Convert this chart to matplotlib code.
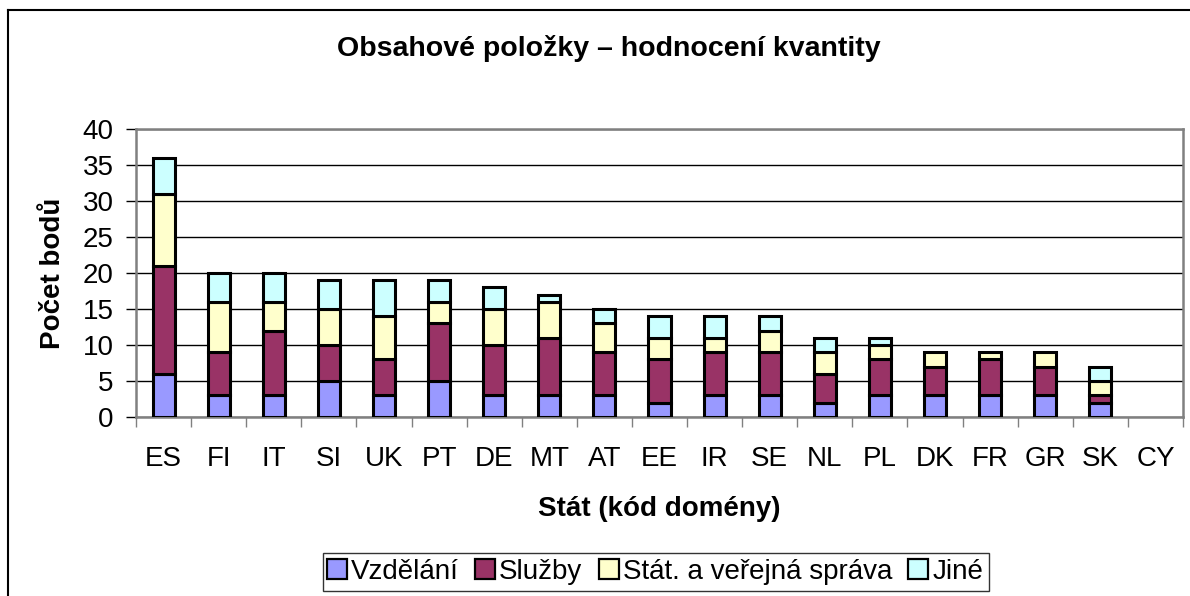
import numpy as np
import matplotlib
matplotlib.use('Agg')
import matplotlib.pyplot as plt
from matplotlib.lines import Line2D

plt.rcParams['font.family'] = ['Liberation Sans', 'DejaVu Sans']

countries = ["ES", "FI", "IT", "SI", "UK", "PT", "DE", "MT", "AT", "EE",
             "IR", "SE", "NL", "PL", "DK", "FR", "GR", "SK", "CY"]
vzdelani = [6, 3, 3, 5, 3, 5, 3, 3, 3, 2, 3, 3, 2, 3, 3, 3, 3, 2, 0]
sluzby   = [15, 6, 9, 5, 5, 8, 7, 8, 6, 6, 6, 6, 4, 5, 4, 5, 4, 1, 0]
stat     = [10, 7, 4, 5, 6, 3, 5, 5, 4, 3, 2, 3, 3, 2, 2, 1, 2, 2, 0]
jine     = [5, 4, 4, 4, 5, 3, 3, 1, 2, 3, 3, 2, 2, 1, 0, 0, 0, 2, 0]

series = [("Vzdělání", vzdelani, "#9999FF"),
          ("Služby", sluzby, "#993366"),
          ("Stát. a veřejná správa", stat, "#FFFFCC"),
          ("Jiné", jine, "#CCFFFF")]

fig = plt.figure(figsize=(11.9, 5.96), dpi=100)
ax = fig.add_axes([136 / 1190, 1 - 417 / 596, (1183 - 136) / 1190, (417 - 129) / 596])

x = np.arange(len(countries))
bottom = np.zeros(len(countries))
handles = []
for name, vals, color in series:
    vals = np.array(vals, dtype=float)
    mask = vals > 0
    ax.bar(x[mask], vals[mask], bottom=bottom[mask], width=0.4, color=color,
           edgecolor='black', linewidth=2.2, zorder=3)
    bottom += vals
    handles.append(Line2D([], [], marker='s', linestyle='none', markersize=14,
                          markerfacecolor=color, markeredgecolor='black',
                          markeredgewidth=1.6, label=name))

ax.set_xlim(-0.5, len(countries) - 0.5)
ax.set_ylim(0, 40)
ax.set_yticks(np.arange(0, 41, 5))
ax.yaxis.grid(True, color='black', linewidth=1.0, zorder=0)
ax.set_axisbelow(True)

ax.set_xticks(np.arange(len(countries) + 1) - 0.5)
ax.set_xticklabels([])
ax.set_xticks(x, minor=True)
ax.set_xticklabels(countries, minor=True)
ax.tick_params(axis='x', which='major', length=7, width=1, color='#808080', direction='out')
ax.tick_params(axis='x', which='minor', length=0, pad=21, labelsize=20)
ax.tick_params(axis='y', length=7, width=1, color='black', labelsize=20, pad=9)

for s in ax.spines.values():
    s.set_color('#808080')
    s.set_linewidth(1.8)

ax.set_ylabel("Počet bodů", fontsize=20, fontweight='bold', va='center')
ax.yaxis.set_label_coords((53 - 136) / 1047, 0.5)
ax.set_xlabel("Stát (kód domény)", fontsize=20, fontweight='bold', va='center')
ax.xaxis.set_label_coords(0.5, (417 - 509) / 288)
fig.text(609 / 1190, 1 - 48 / 596, "Obsahové položky – hodnocení kvantity",
         ha='center', va='center', fontsize=20.5, fontweight='bold')

leg = fig.legend(handles=handles, loc='center', ncol=4,
                 bbox_to_anchor=(656 / 1190, 1 - 572 / 596), fontsize=20,
                 frameon=True, fancybox=False, edgecolor='black',
                 handlelength=0.6, handletextpad=0.2, columnspacing=0.65,
                 borderpad=0.2, borderaxespad=0)
leg.get_frame().set_linewidth(1.0)

# outer chart border (only top and left are visible in the original)
fig.add_artist(Line2D([8 / 1190, 8 / 1190], [0, 1 - 10 / 596], color='black', linewidth=1.5,
                      transform=fig.transFigure))
fig.add_artist(Line2D([8 / 1190, 1], [1 - 10 / 596, 1 - 10 / 596], color='black', linewidth=1.5,
                      transform=fig.transFigure))

fig.savefig("out.png", dpi=100, facecolor='white')
